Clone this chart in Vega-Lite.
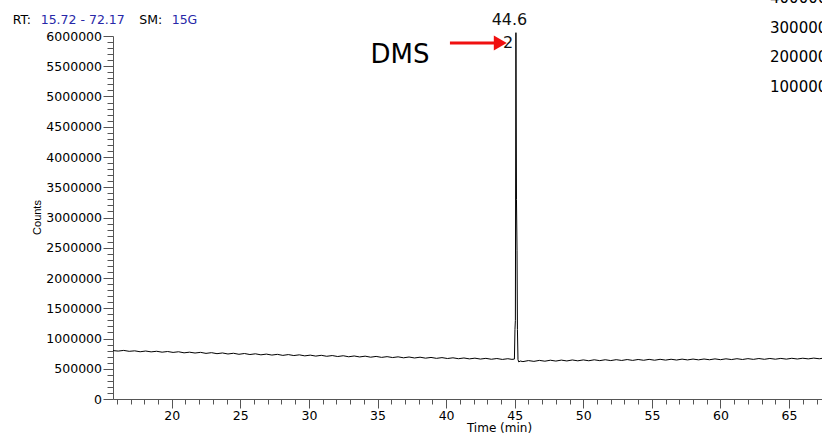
{
  "$schema": "https://vega.github.io/schema/vega-lite/v6.json",
  "autosize": {"type": "none"},
  "padding": {"left": 113, "top": 36, "right": 0, "bottom": 36},
  "width": 709,
  "height": 363,
  "background": "white",
  "config": {"view": {"stroke": null}},
  "datasets": {
    "trace": [
      {"t": 15.72, "v": 800000}, {"t": 16.1, "v": 792000}, {"t": 16.5, "v": 803000}, {"t": 16.9, "v": 788000},
      {"t": 17.3, "v": 796000}, {"t": 17.7, "v": 781000}, {"t": 18.1, "v": 793000}, {"t": 18.5, "v": 779000},
      {"t": 18.9, "v": 789000}, {"t": 19.3, "v": 774000}, {"t": 19.7, "v": 785000}, {"t": 20.1, "v": 770000},
      {"t": 20.5, "v": 781000}, {"t": 20.9, "v": 763000}, {"t": 21.3, "v": 774000}, {"t": 21.7, "v": 760000},
      {"t": 22.1, "v": 771000}, {"t": 22.5, "v": 754000}, {"t": 22.9, "v": 766000}, {"t": 23.3, "v": 749000},
      {"t": 23.7, "v": 761000}, {"t": 24.1, "v": 744000}, {"t": 24.5, "v": 756000}, {"t": 24.9, "v": 739000},
      {"t": 25.3, "v": 752000}, {"t": 25.7, "v": 735000}, {"t": 26.1, "v": 747000}, {"t": 26.5, "v": 730000},
      {"t": 26.9, "v": 742000}, {"t": 27.3, "v": 726000}, {"t": 27.7, "v": 738000}, {"t": 28.1, "v": 721000},
      {"t": 28.5, "v": 734000}, {"t": 28.9, "v": 718000}, {"t": 29.3, "v": 730000}, {"t": 29.7, "v": 713000},
      {"t": 30.1, "v": 725000}, {"t": 30.5, "v": 709000}, {"t": 30.9, "v": 722000}, {"t": 31.3, "v": 706000},
      {"t": 31.7, "v": 718000}, {"t": 32.1, "v": 702000}, {"t": 32.5, "v": 715000}, {"t": 32.9, "v": 698000},
      {"t": 33.3, "v": 711000}, {"t": 33.7, "v": 695000}, {"t": 34.1, "v": 708000}, {"t": 34.5, "v": 691000},
      {"t": 34.9, "v": 704000}, {"t": 35.3, "v": 688000}, {"t": 35.7, "v": 700000}, {"t": 36.1, "v": 685000},
      {"t": 36.5, "v": 697000}, {"t": 36.9, "v": 681000}, {"t": 37.3, "v": 694000}, {"t": 37.7, "v": 678000},
      {"t": 38.1, "v": 691000}, {"t": 38.5, "v": 675000}, {"t": 38.9, "v": 687000}, {"t": 39.3, "v": 672000},
      {"t": 39.7, "v": 684000}, {"t": 40.1, "v": 669000}, {"t": 40.5, "v": 681000}, {"t": 40.9, "v": 666000},
      {"t": 41.3, "v": 678000}, {"t": 41.7, "v": 663000}, {"t": 42.1, "v": 675000}, {"t": 42.5, "v": 660000},
      {"t": 42.9, "v": 672000}, {"t": 43.3, "v": 657000}, {"t": 43.7, "v": 669000}, {"t": 44.1, "v": 654000},
      {"t": 44.5, "v": 666000}, {"t": 44.8, "v": 655000}, {"t": 44.98, "v": 660000},
      {"t": 45.02, "v": 1150000}, {"t": 45.05, "v": 1300000}, {"t": 45.09, "v": 6055000}, {"t": 45.13, "v": 3300000},
      {"t": 45.17, "v": 2460000}, {"t": 45.2, "v": 1150000}, {"t": 45.24, "v": 650000}, {"t": 45.3, "v": 612000},
      {"t": 45.4, "v": 628000}, {"t": 45.6, "v": 618000}, {"t": 46.0, "v": 635000}, {"t": 46.4, "v": 622000},
      {"t": 46.8, "v": 638000}, {"t": 47.2, "v": 625000}, {"t": 47.6, "v": 641000}, {"t": 48.0, "v": 627000},
      {"t": 48.4, "v": 643000}, {"t": 48.8, "v": 629000}, {"t": 49.2, "v": 645000}, {"t": 49.6, "v": 631000},
      {"t": 50.0, "v": 646000}, {"t": 50.4, "v": 632000}, {"t": 50.8, "v": 648000}, {"t": 51.2, "v": 634000},
      {"t": 51.6, "v": 649000}, {"t": 52.0, "v": 635000}, {"t": 52.4, "v": 650000}, {"t": 52.8, "v": 637000},
      {"t": 53.2, "v": 652000}, {"t": 53.6, "v": 638000}, {"t": 54.0, "v": 653000}, {"t": 54.4, "v": 640000},
      {"t": 54.8, "v": 655000}, {"t": 55.2, "v": 641000}, {"t": 55.6, "v": 656000}, {"t": 56.0, "v": 643000},
      {"t": 56.4, "v": 657000}, {"t": 56.8, "v": 644000}, {"t": 57.2, "v": 659000}, {"t": 57.6, "v": 646000},
      {"t": 58.0, "v": 660000}, {"t": 58.4, "v": 647000}, {"t": 58.8, "v": 661000}, {"t": 59.2, "v": 649000},
      {"t": 59.6, "v": 663000}, {"t": 60.0, "v": 650000}, {"t": 60.4, "v": 664000}, {"t": 60.8, "v": 652000},
      {"t": 61.2, "v": 666000}, {"t": 61.6, "v": 653000}, {"t": 62.0, "v": 667000}, {"t": 62.4, "v": 655000},
      {"t": 62.8, "v": 669000}, {"t": 63.2, "v": 656000}, {"t": 63.6, "v": 670000}, {"t": 64.0, "v": 658000},
      {"t": 64.4, "v": 671000}, {"t": 64.8, "v": 659000}, {"t": 65.2, "v": 673000}, {"t": 65.6, "v": 661000},
      {"t": 66.0, "v": 674000}, {"t": 66.4, "v": 663000}, {"t": 66.8, "v": 676000}, {"t": 67.2, "v": 665000},
      {"t": 67.4, "v": 672000}
    ],
    "arrow": [{"t": 40.28, "t2": 43.6, "v": 5884000}],
    "head": [{"t": 43.95, "v": 5884000}],
    "notes": [
      {"role": "dms", "text": "DMS", "t": 36.64, "v": 5554000},
      {"role": "rt", "text": "44.6", "t": 44.62, "v": 6182000},
      {"role": "pk", "text": "2", "t": 44.51, "v": 5802000}
    ],
    "header": [
      {"role": "key", "text": "RT:", "t": 8.41, "v": 6198000},
      {"role": "val", "text": "15.72 - 72.17", "t": 10.45, "v": 6198000},
      {"role": "key", "text": "SM:", "t": 17.64, "v": 6198000},
      {"role": "val", "text": "15G", "t": 20.0, "v": 6198000}
    ],
    "inset": [
      {"text": "400000", "t": 63.61, "v": 6620000},
      {"text": "300000", "t": 63.61, "v": 6132000},
      {"text": "200000", "t": 63.61, "v": 5653000},
      {"text": "100000", "t": 63.61, "v": 5157000}
    ]
  },
  "layer": [
    {
      "data": {"name": "trace"},
      "mark": {"type": "line", "color": "#000000", "strokeWidth": 1, "clip": false},
      "encoding": {
        "x": {
          "field": "t", "type": "quantitative", "title": "Time (min)",
          "scale": {"domain": [15.72, 67.4], "nice": false, "zero": false},
          "axis": {
            "values": [16,17,18,19,20,21,22,23,24,25,26,27,28,29,30,31,32,33,34,35,36,37,38,39,40,41,42,43,44,45,46,47,48,49,50,51,52,53,54,55,56,57,58,59,60,61,62,63,64,65,66,67],
            "tickCount": 200,
            "format": "d",
            "labelExpr": "datum.value % 5 === 0 ? datum.label : ''",
            "tickSize": {"condition": {"test": "datum.value % 5 === 0", "value": 9}, "value": 5},
            "labelPadding": 1,
            "labelFont": "DejaVu Sans", "labelFontSize": 12.5, "labelColor": "#000000",
            "labelOverlap": false, "labelFlush": false,
            "domainColor": "#555555", "tickColor": "#555555", "grid": false,
            "titleFont": "DejaVu Sans", "titleFontSize": 12, "titleFontWeight": "normal", "titleColor": "#000000",
            "titleX": 386, "titleY": 32.5, "titleBaseline": "alphabetic", "titleAlign": "center"
          }
        },
        "y": {
          "field": "v", "type": "quantitative", "title": "Counts",
          "scale": {"domain": [0, 6000000], "nice": false, "zero": true},
          "axis": {
            "values": [0,100000,200000,300000,400000,500000,600000,700000,800000,900000,1000000,1100000,1200000,1300000,1400000,1500000,1600000,1700000,1800000,1900000,2000000,2100000,2200000,2300000,2400000,2500000,2600000,2700000,2800000,2900000,3000000,3100000,3200000,3300000,3400000,3500000,3600000,3700000,3800000,3900000,4000000,4100000,4200000,4300000,4400000,4500000,4600000,4700000,4800000,4900000,5000000,5100000,5200000,5300000,5400000,5500000,5600000,5700000,5800000,5900000,6000000],
            "tickCount": 200,
            "format": "d",
            "labelExpr": "datum.value % 500000 === 0 ? datum.label : ''",
            "tickSize": {"condition": {"test": "datum.value % 500000 === 0", "value": 10}, "value": 6},
            "labelPadding": 1.5,
            "labelFont": "DejaVu Sans", "labelFontSize": 12.5, "labelColor": "#000000",
            "labelOverlap": false, "labelFlush": false,
            "domainColor": "#555555", "tickColor": "#555555", "grid": false,
            "titleFont": "Liberation Sans", "titleFontSize": 11, "titleFontWeight": "normal", "titleColor": "#000000",
            "titleX": -75.5, "titleY": 181, "titleAngle": -90, "titleBaseline": "middle", "titleAlign": "center"
          }
        }
      }
    },
    {
      "data": {"name": "arrow"},
      "mark": {"type": "rule", "color": "#f01010", "strokeWidth": 3, "clip": false},
      "encoding": {
        "x": {"field": "t", "type": "quantitative", "title": "Time (min)"},
        "x2": {"field": "t2"},
        "y": {"field": "v", "type": "quantitative", "title": "Counts"}
      }
    },
    {
      "data": {"name": "head"},
      "mark": {"type": "point", "shape": "triangle-right", "size": 225, "filled": true, "color": "#f01010", "opacity": 1, "clip": false},
      "encoding": {
        "x": {"field": "t", "type": "quantitative", "title": "Time (min)"},
        "y": {"field": "v", "type": "quantitative", "title": "Counts"}
      }
    },
    {
      "data": {"name": "notes"},
      "transform": [{"filter": "datum.role === 'dms'"}],
      "mark": {"type": "text", "font": "DejaVu Sans", "fontSize": 26, "color": "#000000", "align": "center", "baseline": "alphabetic", "clip": false},
      "encoding": {
        "x": {"field": "t", "type": "quantitative", "title": "Time (min)"},
        "y": {"field": "v", "type": "quantitative", "title": "Counts"},
        "text": {"field": "text"}
      }
    },
    {
      "data": {"name": "notes"},
      "transform": [{"filter": "datum.role !== 'dms'"}],
      "mark": {"type": "text", "font": "DejaVu Sans", "fontSize": 16, "color": "#111111", "align": "center", "baseline": "alphabetic", "clip": false},
      "encoding": {
        "x": {"field": "t", "type": "quantitative", "title": "Time (min)"},
        "y": {"field": "v", "type": "quantitative", "title": "Counts"},
        "text": {"field": "text"}
      }
    },
    {
      "data": {"name": "header"},
      "transform": [{"filter": "datum.role === 'key'"}],
      "mark": {"type": "text", "font": "DejaVu Sans", "fontSize": 12.5, "color": "#000000", "align": "left", "baseline": "alphabetic", "clip": false},
      "encoding": {
        "x": {"field": "t", "type": "quantitative", "title": "Time (min)"},
        "y": {"field": "v", "type": "quantitative", "title": "Counts"},
        "text": {"field": "text"}
      }
    },
    {
      "data": {"name": "header"},
      "transform": [{"filter": "datum.role === 'val'"}],
      "mark": {"type": "text", "font": "DejaVu Sans", "fontSize": 12.5, "color": "#2828a8", "align": "left", "baseline": "alphabetic", "clip": false},
      "encoding": {
        "x": {"field": "t", "type": "quantitative", "title": "Time (min)"},
        "y": {"field": "v", "type": "quantitative", "title": "Counts"},
        "text": {"field": "text"}
      }
    },
    {
      "data": {"name": "inset"},
      "mark": {"type": "text", "font": "DejaVu Sans", "fontSize": 15, "color": "#000000", "align": "left", "baseline": "middle", "clip": false},
      "encoding": {
        "x": {"field": "t", "type": "quantitative", "title": "Time (min)"},
        "y": {"field": "v", "type": "quantitative", "title": "Counts"},
        "text": {"field": "text"}
      }
    }
  ]
}
